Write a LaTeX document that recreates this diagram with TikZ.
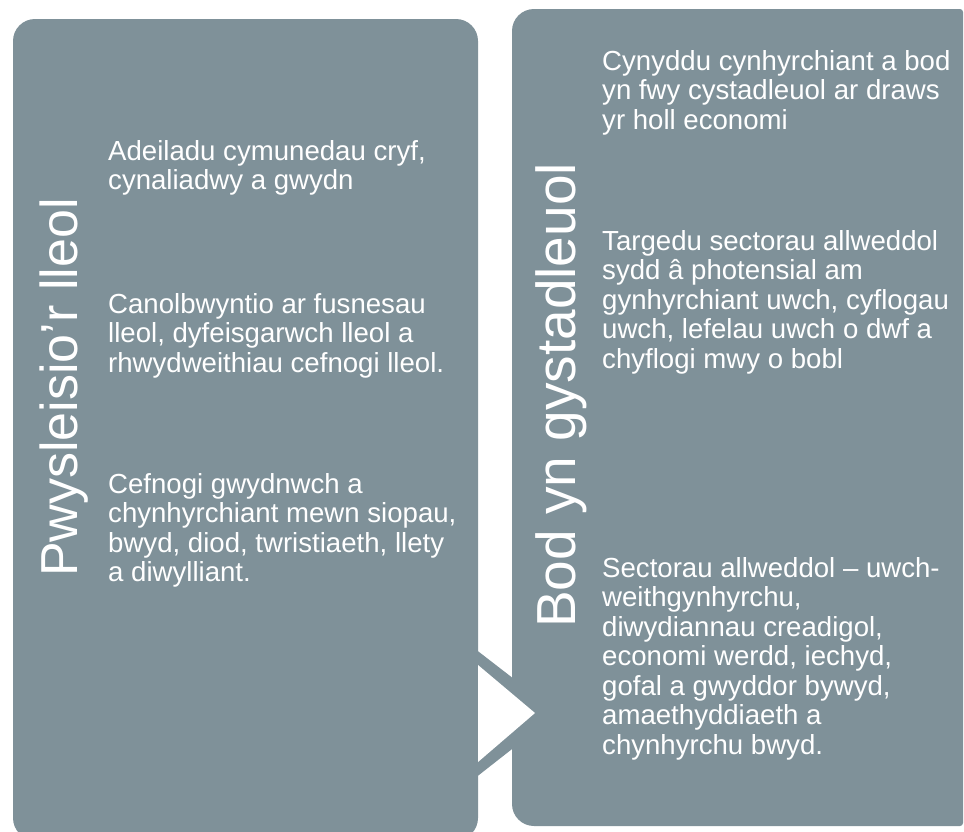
\documentclass[tikz,border=0pt]{standalone}
\usepackage{fontspec}
\setmainfont{Liberation Sans}
\definecolor{boxgrey}{RGB}{127,145,153}
\newcommand{\bodyfnt}{\fontsize{27.6}{29.5}\selectfont}
\newcommand{\fs}{\rule{0pt}{22pt}}
\tikzset{
  bodytext/.style={font=\bodyfnt, text=white, align=left, anchor=north west, inner sep=0pt},
  titletext/.style={text=white, rotate=90, anchor=base west, inner sep=0pt},
  panel/.style={fill=boxgrey, draw=none}
}
\begin{document}
\begin{tikzpicture}[x=1pt,y=-1pt]
\useasboundingbox (0,0) rectangle (964,831);
\clip (0,0) rectangle (964,831);
% left panel
\path[panel, rounded corners=22pt] (13,19) rectangle (478,840);
% right panel
\path[panel] (512,31) arc[start angle=180, end angle=90, radius=22pt] -- (960,9)
  arc[start angle=90, end angle=0, radius=3pt] -- (963,823)
  arc[start angle=0, end angle=-90, radius=3pt] -- (534,826)
  arc[start angle=-90, end angle=-180, radius=22pt] -- cycle;
% arrow
\coordinate (g1) at (470,645);
\coordinate (g2) at (558,713);
\coordinate (g3) at (470,782);
\coordinate (w1) at (478,665);
\coordinate (w2) at (535,713);
\coordinate (w3) at (478,762);
\path[panel] (g1) -- (g2) -- (g3) -- cycle;
\path[fill=white] (w1) -- (w2) -- (w3) -- cycle;
% titles
\node[titletext, font=\fontsize{52}{60}\selectfont] (t1) at (77,577) {Pwysleisio’r lleol};
\node[titletext, font=\fontsize{55}{60}\selectfont] (t2) at (575,628) {Bod yn gystadleuol};
% left texts
\node[bodytext] (l1) at (108,138) {\fs Adeiladu cymunedau cryf,\\cynaliadwy a gwydn};
\node[bodytext] (l2) at (108,291) {\fs Canolbwyntio ar fusnesau\\lleol, dyfeisgarwch lleol a\\rhwydweithiau cefnogi lleol.};
\node[bodytext] (l3) at (108,471) {\fs Cefnogi gwydnwch a\\chynhyrchiant mewn siopau,\\bwyd, diod, twristiaeth, llety\\a diwylliant.};
% right texts
\node[bodytext] (r1) at (602,48) {\fs Cynyddu cynhyrchiant a bod\\yn fwy cystadleuol ar draws\\yr holl economi};
\node[bodytext] (r2) at (602,228) {\fs Targedu sectorau allweddol\\sydd â photensial am\\gynhyrchiant uwch, cyflogau\\uwch, lefelau uwch o dwf a\\chyflogi mwy o bobl};
\node[bodytext] (r3) at (602,555) {\fs Sectorau allweddol – uwch-\\weithgynhyrchu,\\diwydiannau creadigol,\\economi werdd, iechyd,\\gofal a gwyddor bywyd,\\amaethyddiaeth a\\chynhyrchu bwyd.};
\end{tikzpicture}
\end{document}
